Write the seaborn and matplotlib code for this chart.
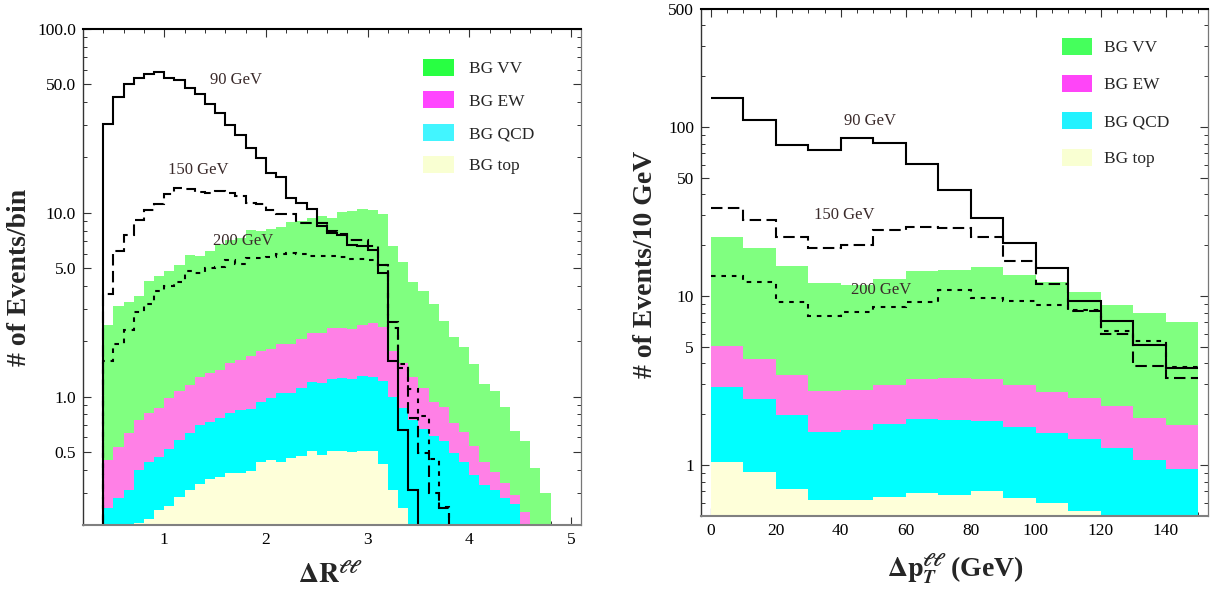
import numpy as np
import pandas as pd
import matplotlib
matplotlib.use("Agg")
import matplotlib.pyplot as plt
import seaborn as sns
from matplotlib.patches import Patch
from matplotlib.ticker import FixedLocator, MultipleLocator, LogLocator, NullFormatter, FixedFormatter

# ---------------- Left panel: Delta R (bins of 0.1 starting at 0.4) ----------------
dr_bin_start = 0.4
dr_bin_width = 0.1
# cumulative tops of the stacked background bands
dr_level_vv = [2.45, 3.1, 3.27, 3.53, 4.26, 4.55, 4.85, 5.2, 5.9, 5.85,
               6.2, 6.8, 7.1, 7.3, 8.1, 8.0, 8.2, 8.4, 8.9, 9.0,
               9.4, 9.6, 9.4, 10.1, 10.2, 10.5, 10.3, 9.8, 6.6, 5.4,
               4.18, 3.76, 3.2, 2.58, 2.11, 1.86, 1.51, 1.17, 1.07, 0.875,
               0.65, 0.57, 0.41, 0.30]
dr_level_ew = [0.45, 0.53, 0.63, 0.75, 0.81, 0.87, 0.98, 1.07, 1.15, 1.27,
               1.35, 1.40, 1.53, 1.59, 1.66, 1.77, 1.81, 1.92, 1.92, 2.05,
               2.21, 2.23, 2.35, 2.37, 2.34, 2.45, 2.50, 2.40, 1.78, 1.53,
               1.28, 1.12, 0.93, 0.88, 0.72, 0.64, 0.54, 0.44, 0.39, 0.34,
               0.29, 0.236, 0, 0]
dr_level_qcd = [0.246, 0.279, 0.31, 0.40, 0.44, 0.466, 0.52, 0.58, 0.63, 0.70,
                0.73, 0.76, 0.81, 0.85, 0.86, 0.935, 0.98, 1.04, 1.045, 1.12,
                1.20, 1.19, 1.25, 1.26, 1.24, 1.29, 1.28, 1.22, 1.0, 0.87,
                0.75, 0.67, 0.61, 0.575, 0.49, 0.44, 0.375, 0.33, 0.31, 0.28,
                0.26, 0, 0, 0]
dr_level_top = [0.12, 0.15, 0.18, 0.205, 0.215, 0.24, 0.255, 0.285, 0.31, 0.333,
                0.355, 0.367, 0.386, 0.383, 0.395, 0.438, 0.449, 0.443, 0.462, 0.472,
                0.503, 0.483, 0.503, 0.503, 0.497, 0.503, 0.503, 0.43, 0.31, 0.246,
                0, 0, 0, 0, 0, 0, 0, 0, 0, 0, 0, 0, 0, 0]
dr_sig_90 = [30.6, 42.7, 50.2, 54.2, 57.0, 58.7, 54.2, 52.8, 47.6, 44.2,
             39.3, 34.8, 29.9, 26.5, 22.6, 19.8, 16.4, 15.6, 12.1, 11.3,
             10.5, 8.5, 7.8, 7.6, 6.7, 6.6, 6.3, 4.7, 1.56, 0.66, 0.31]
dr_sig_150 = [3.6, 6.2, 7.6, 9.1, 10.4, 11.2, 12.7, 13.6, 13.4, 13.0,
              12.8, 13.2, 12.8, 12.3, 11.3, 11.2, 10.4, 9.9, 9.8, 8.8,
              8.8, 8.8, 8.0, 7.7, 7.1, 7.1, 6.6, 5.2, 2.56, 1.43,
              0.76, 0.49, 0.30, 0.246]
dr_sig_200 = [1.56, 1.94, 2.3, 2.9, 3.2, 3.73, 4.0, 4.2, 4.8, 4.7,
              5.0, 5.05, 5.56, 5.26, 5.65, 5.7, 5.75, 5.97, 6.05, 5.97,
              5.85, 5.85, 5.8, 5.75, 5.6, 5.6, 5.5, 5.2, 2.37, 1.5,
              1.1, 0.78, 0.46, 0.25]

# ---------------- Right panel: Delta pT (bins of 10 GeV from 0) ----------------
pt_bin_start = 0
pt_bin_width = 10
pt_level_vv = [22.4, 19.3, 15.1, 12.0, 11.7, 12.6, 14.0, 14.3, 14.8, 13.3, 12.2, 10.6, 8.9, 8.0, 7.0]
pt_level_ew = [5.05, 4.27, 3.40, 2.76, 2.80, 2.99, 3.25, 3.28, 3.22, 2.99, 2.70, 2.50, 2.23, 1.89, 1.72]
pt_level_qcd = [2.90, 2.47, 1.97, 1.58, 1.62, 1.76, 1.87, 1.86, 1.83, 1.69, 1.55, 1.43, 1.27, 1.07, 0.95]
pt_level_top = [1.04, 0.91, 0.72, 0.62, 0.625, 0.65, 0.68, 0.67, 0.70, 0.64, 0.60, 0.535, 0.47, 0.44, 0.42]
pt_sig_90 = [148.6, 110.6, 78, 73.2, 86.3, 80.2, 60.8, 42.7, 28.9, 20.5, 14.7, 9.4, 7.1, 5.16, 3.76]
pt_sig_150 = [33.1, 28.1, 22.3, 19.3, 20.2, 24.6, 25.7, 25.2, 22.3, 16.2, 11.8, 8.2, 6.0, 3.88, 3.28]
pt_sig_200 = [13.1, 12.1, 9.2, 7.6, 8.1, 8.6, 9.2, 10.8, 9.75, 9.4, 8.9, 8.3, 6.2, 5.4, 3.8]

bg_names = ["BG VV", "BG EW", "BG QCD", "BG top"]
fill_colors = ["#80FF80", "#FF80E6", "#00FFFF", "#FEFFD9"]
legend_colors_left = ["#28FF42", "#FF45FF", "#42F5FF", "#F9FFD2"]
legend_colors_right = ["#45FF5C", "#FF45F8", "#22F2FF", "#F9FFD2"]

sig_labels = ["90 GeV", "150 GeV", "200 GeV"]

sns.set_style("ticks")
plt.rcParams["font.family"] = ["Liberation Serif", "DejaVu Serif"]
plt.rcParams["mathtext.fontset"] = "stix"

fig = plt.figure(figsize=(12.11, 5.92), dpi=100)
W, H = 1211.0, 592.0
ax1 = fig.add_axes([83 / W, (H - 525) / H, 498 / W, 496 / H])
ax2 = fig.add_axes([701 / W, (H - 516) / H, 507 / W, 507 / H])


def draw_stack(ax, start, width, levels):
    lv = [np.asarray(l, dtype=float) for l in levels]
    n = len(lv[0])
    centers = start + width * (np.arange(n) + 0.5)
    comps = [lv[0] - lv[1], lv[1] - lv[2], lv[2] - lv[3], lv[3]]
    df = pd.concat([pd.DataFrame({"x": centers, "w": np.clip(c, 0, None), "bg": nm})
                    for c, nm in zip(comps, bg_names)], ignore_index=True)
    sns.histplot(data=df, x="x", weights="w", hue="bg", hue_order=bg_names,
                 multiple="stack", bins=n, binrange=(start, start + n * width),
                 element="step", fill=True,
                 palette=dict(zip(bg_names, fill_colors)), alpha=1,
                 linewidth=0, edgecolor="none", legend=False, ax=ax)


def draw_signals(ax, start, width, sigs, baseline):
    styles = ["-", (0, (5.5, 2.6)), (0, (2.2, 2.8))]
    for vals, ls in zip(sigs, styles):
        v = np.asarray(vals, dtype=float)
        edges = start + width * np.arange(len(v) + 1)
        ax.stairs(v, edges, baseline=baseline, color="black", lw=1.5,
                  linestyle=ls, zorder=3)


draw_stack(ax1, dr_bin_start, dr_bin_width,
           [dr_level_vv, dr_level_ew, dr_level_qcd, dr_level_top])
draw_signals(ax1, dr_bin_start, dr_bin_width, [dr_sig_90, dr_sig_150, dr_sig_200], 1e-3)
draw_stack(ax2, pt_bin_start, pt_bin_width,
           [pt_level_vv, pt_level_ew, pt_level_qcd, pt_level_top])
draw_signals(ax2, pt_bin_start, pt_bin_width, [pt_sig_90, pt_sig_150, pt_sig_200], None)

for ax in (ax1, ax2):
    ax.set_yscale("log")
    ax.set_xlabel("")
    ax.set_ylabel("")

# axis ranges and ticks
ax1.set_xlim(0.2, 5.1)
ax1.set_ylim(0.2, 100)
ax1.xaxis.set_major_locator(MultipleLocator(1))
ax1.xaxis.set_minor_locator(MultipleLocator(0.2))
left_major = [0.5, 1, 5, 10, 50, 100]
ax1.yaxis.set_major_locator(FixedLocator(left_major))
ax1.yaxis.set_major_formatter(FixedFormatter(["%.1f" % v for v in left_major]))
ax1.yaxis.set_minor_locator(LogLocator(base=10, subs=np.arange(2, 10)))
ax1.yaxis.set_minor_formatter(NullFormatter())

ax2.set_xlim(-3, 153)
ax2.set_ylim(0.5, 500)
ax2.xaxis.set_major_locator(MultipleLocator(20))
ax2.xaxis.set_minor_locator(MultipleLocator(5))
right_major = [1, 5, 10, 50, 100, 500]
ax2.yaxis.set_major_locator(FixedLocator(right_major))
ax2.yaxis.set_major_formatter(FixedFormatter([str(v) for v in right_major]))
ax2.yaxis.set_minor_locator(LogLocator(base=10, subs=np.arange(2, 10)))
ax2.yaxis.set_minor_formatter(NullFormatter())

for ax in (ax1, ax2):
    ax.tick_params(which="both", direction="in", top=True, right=True,
                   color="#333333", labelsize=12.5, labelcolor="black")
    ax.tick_params(which="major", length=5.5, width=0.8, pad=5)
    ax.tick_params(which="minor", length=3, width=0.7)
    ax.spines["top"].set_color("black")
    ax.spines["top"].set_linewidth(1.5)
    ax.spines["bottom"].set_color("#808080")
    ax.spines["bottom"].set_linewidth(1.5)
    ax.spines["left"].set_color("#333333")
    ax.spines["left"].set_linewidth(1.0)
    ax.spines["right"].set_color("#777777")
    ax.spines["right"].set_linewidth(0.9)
    for s in ax.spines.values():
        s.set_zorder(5)

# signal annotations
txt_col = "#3a2a2a"
for (x, y), s in zip([(1.71, 53), (1.33, 17), (1.78, 7.06)], sig_labels):
    ax1.text(x, y, s, ha="center", va="center", fontsize=12, color=txt_col, zorder=6)
for (x, y), s in zip([(49, 108), (41, 30), (52.4, 10.8)], sig_labels):
    ax2.text(x, y, s, ha="center", va="center", fontsize=12, color=txt_col, zorder=6)

# legends
h1 = [Patch(facecolor=c, edgecolor="none") for c in legend_colors_left]
ax1.legend(h1, bg_names, loc="upper left", bbox_to_anchor=(0.683, 0.94),
           frameon=False, fontsize=12.5, handlelength=1.78, handleheight=1.15,
           labelspacing=0.8, handletextpad=0.86, borderpad=0, borderaxespad=0)
h2 = [Patch(facecolor=c, edgecolor="none") for c in legend_colors_right]
ax2.legend(h2, bg_names, loc="upper left", bbox_to_anchor=(0.712, 0.943),
           frameon=False, fontsize=12.5, handlelength=1.75, handleheight=1.15,
           labelspacing=1.06, handletextpad=0.69, borderpad=0, borderaxespad=0)

# axis titles
fig.text(20 / W, 1 - 277 / H, "# of Events/bin", rotation=90, ha="center", va="center",
         fontsize=20, fontweight="bold")
fig.text(645 / W, 1 - 264 / H, "# of Events/10 GeV", rotation=90, ha="center", va="center",
         fontsize=20, fontweight="bold")
fig.text(330 / W, 1 - 583 / H, r"$\mathbf{\Delta R}^{\mathbf{\ell\ell}}$", ha="center",
         va="baseline", fontsize=20)
fig.text(955 / W, 1 - 577 / H, r"$\mathbf{\Delta p}_{\mathbfit{T}}^{\mathbf{\ell\ell}}$ (GeV)",
         ha="center", va="baseline", fontsize=20, fontweight="bold")

fig.savefig("out.png", dpi=100)
